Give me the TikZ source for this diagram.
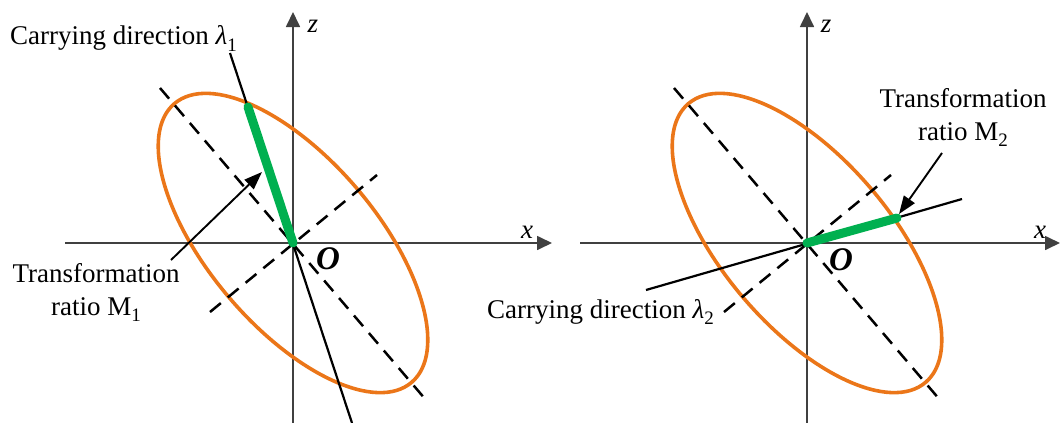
\documentclass[tikz,border=0pt]{standalone}
\usepackage{fontspec}
\setmainfont{Liberation Serif}
\usetikzlibrary{arrows.meta}
\definecolor{ellorange}{RGB}{235,118,25}
\definecolor{ratiogreen}{RGB}{0,176,80}
\newcommand\lsub[1]{\raisebox{-0.25em}{\fontsize{19}{19}\selectfont #1}}
\begin{document}
\begin{tikzpicture}[x=1pt,y=-1pt,
 axis/.style={line width=1.7pt, draw=black!75, -{Triangle[length=15pt,width=14pt]}},
 ell/.style={draw=ellorange, line width=3.6pt},
 dashline/.style={draw=black, line width=2.5pt, dash pattern=on 14pt off 9pt},
 carry/.style={draw=black, line width=2.2pt},
 ratio/.style={draw=ratiogreen, line width=9pt, line cap=round},
 pointer/.style={draw=black, line width=1.9pt, -{Triangle[length=18pt,width=13pt]}},
 lbl/.style={font=\fontsize{27}{30}\selectfont, inner sep=0pt},
 olbl/.style={font=\fontsize{33}{36}\selectfont\bfseries\itshape, inner sep=0pt},
]
\useasboundingbox (0,0) rectangle (1061,423);
% ---------- left diagram ----------
\coordinate (O1) at (293,243);
\coordinate (xs1) at (65,243);
\coordinate (xe1) at (552,243);
\coordinate (zs1) at (293,423);
\coordinate (ze1) at (293,12);
\draw[axis] (xs1) -- (xe1);
\draw[axis] (zs1) -- (ze1);
\draw[ell, rotate around={-49.6:(O1)}] (O1) ellipse [x radius=183pt, y radius=84pt];
\coordinate (ma1) at (160,88);
\coordinate (mb1) at (426,400);
\coordinate (na1) at (210,312);
\coordinate (nb1) at (377,175);
\draw[dashline] (ma1) -- (mb1);
\draw[dashline] (na1) -- (nb1);
\coordinate (ca1) at (230,53);
\coordinate (cb1) at (352,423);
\draw[carry] (ca1) -- (cb1);
\coordinate (g1) at (248,107);
\draw[ratio] (O1) -- (g1);
\coordinate (pa1) at (171,260);
\coordinate (pb1) at (262,172);
\draw[pointer] (pa1) -- (pb1);
\node[lbl, anchor=base west] (cl1) at (10,45) {Carrying direction \textit{λ}\lsub{1}};
\node[lbl, anchor=base] (t1) at (96,282) {Transformation};
\node[lbl, anchor=base] (r1) at (96,315) {ratio M\lsub{1}};
\node[olbl] (o1) at (328,259) {O};
\node[lbl] (z1) at (313,26) {\textit{z}};
\node[lbl] (x1) at (527,232) {\textit{x}};
% ---------- right diagram ----------
\coordinate (O2) at (807,243);
\coordinate (xs2) at (580,243);
\coordinate (xe2) at (1060,243);
\coordinate (zs2) at (807,423);
\coordinate (ze2) at (807,12);
\draw[axis] (xs2) -- (xe2);
\draw[axis] (zs2) -- (ze2);
\draw[ell, rotate around={-49.6:(O2)}] (O2) ellipse [x radius=183pt, y radius=84pt];
\coordinate (ma2) at (674,88);
\coordinate (mb2) at (940,400);
\coordinate (na2) at (724,312);
\coordinate (nb2) at (891,175);
\draw[dashline] (ma2) -- (mb2);
\draw[dashline] (na2) -- (nb2);
\coordinate (ca2) at (646,290);
\coordinate (cb2) at (962,199);
\draw[carry] (ca2) -- (cb2);
\coordinate (g2) at (897,218);
\draw[ratio] (O2) -- (g2);
\coordinate (pa2) at (942,153);
\coordinate (pb2) at (899,214);
\draw[pointer] (pa2) -- (pb2);
\node[lbl, anchor=base west] (cl2) at (487,318) {Carrying direction \textit{λ}\lsub{2}};
\node[lbl, anchor=base] (t2) at (963,107) {Transformation};
\node[lbl, anchor=base] (r2) at (963,140) {ratio M\lsub{2}};
\node[olbl] (o2) at (841,260) {O};
\node[lbl] (z2) at (826,26) {\textit{z}};
\node[lbl] (x2) at (1040,232) {\textit{x}};
\end{tikzpicture}
\end{document}
